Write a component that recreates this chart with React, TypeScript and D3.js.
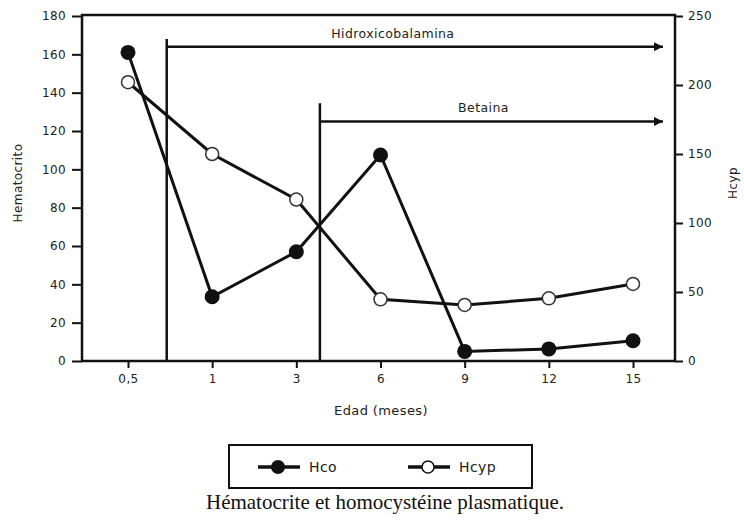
import { useEffect, useRef } from 'react';
import * as d3 from 'd3';

// Age categories (months)
const ages = ['0,5', '1', '3', '6', '9', '12', '15'];
// Hematocrito (left axis)
const hco = [161, 33.5, 57, 107.5, 5, 6.3, 10.6];
// Homocysteine (right axis)
const hcyp = [202, 150, 117, 44.7, 40.6, 45.4, 55.8];

const leftTicks = [0, 20, 40, 60, 80, 100, 120, 140, 160, 180];
const rightTicks = [0, 50, 100, 150, 200, 250];

// Treatment annotations: start between categories, arrow height / vertical top in left-axis units
const treatments = [
  { label: 'Hidroxicobalamina', after: '0,5', frac: 0.46, top: 168, arrowY: 164 },
  { label: 'Betaina', after: '3', frac: 0.28, top: 134.5, arrowY: 125 },
];

export default function App() {
  const svgRef = useRef<SVGSVGElement>(null);

  useEffect(() => {
    if (!svgRef.current) return;
    const root = d3.select(svgRef.current);
    root.selectAll('*').remove();

    const left = 82, right = 675, top = 16, bottom = 361;
    const font = '"DejaVu Sans", Verdana, sans-serif';

    const x = d3.scalePoint<string>().domain(ages).range([128, 633]);
    const yL = d3.scaleLinear().domain([0, 180]).range([bottom, top]);
    const yR = d3.scaleLinear().domain([0, 250]).range([bottom, top]);

    root.append('defs').append('marker')
      .attr('id', 'arrow')
      .attr('viewBox', '0 0 10 10')
      .attr('refX', 10).attr('refY', 5)
      .attr('markerWidth', 6).attr('markerHeight', 3.6)
      .attr('markerUnits', 'strokeWidth')
      .attr('orient', 'auto')
      .append('path').attr('d', 'M0,0L10,5L0,10Z').attr('fill', '#111');

    // frame
    root.append('rect')
      .attr('x', left).attr('y', top - 1)
      .attr('width', right - left).attr('height', bottom - top + 1)
      .attr('fill', 'none').attr('stroke', '#111').attr('stroke-width', 2.5);

    const styleText = (sel: any, size: number) =>
      sel.attr('font-family', font).attr('font-size', size)
        .attr('letter-spacing', 0.4).attr('fill', '#222');

    // left axis
    const gl = root.append('g')
      .attr('transform', `translate(${left},0)`)
      .call(d3.axisLeft(yL).tickValues(leftTicks).tickSize(10).tickPadding(6));
    gl.select('.domain').remove();
    gl.selectAll('line').attr('stroke', '#111').attr('stroke-width', 2);
    styleText(gl.selectAll('text'), 12);

    // right axis
    const gr = root.append('g')
      .attr('transform', `translate(${right},0)`)
      .call(d3.axisRight(yR).tickValues(rightTicks).tickSize(8).tickPadding(5));
    gr.select('.domain').remove();
    gr.selectAll('line').attr('stroke', '#111').attr('stroke-width', 2);
    styleText(gr.selectAll('text'), 12);

    // bottom axis
    const gb = root.append('g')
      .attr('transform', `translate(0,${bottom})`)
      .call(d3.axisBottom(x).tickSize(7).tickPadding(6));
    gb.select('.domain').remove();
    gb.selectAll('line').attr('stroke', '#111').attr('stroke-width', 2);
    styleText(gb.selectAll('text'), 12);

    // axis titles
    styleText(root.append('text'), 12)
      .attr('transform', `translate(22,183) rotate(-90)`)
      .attr('text-anchor', 'middle')
      .text('Hematocrito');
    styleText(root.append('text'), 12)
      .attr('transform', `translate(737,183) rotate(-90)`)
      .attr('text-anchor', 'middle')
      .text('Hcyp');
    styleText(root.append('text'), 13)
      .attr('x', 381).attr('y', 415)
      .attr('text-anchor', 'middle')
      .text('Edad (meses)');

    // treatment annotations
    const step = x.step();
    const labelShift = [-22, -8];
    treatments.forEach((t, i) => {
      const sx = (x(t.after) ?? 0) + t.frac * step;
      root.append('line')
        .attr('x1', sx).attr('x2', sx)
        .attr('y1', yL(t.top)).attr('y2', bottom)
        .attr('stroke', '#111').attr('stroke-width', 2.5);
      root.append('line')
        .attr('x1', sx).attr('x2', right - 12)
        .attr('y1', yL(t.arrowY)).attr('y2', yL(t.arrowY))
        .attr('stroke', '#111').attr('stroke-width', 2.5)
        .attr('marker-end', 'url(#arrow)');
      styleText(root.append('text'), 12.5)
        .attr('x', (sx + right - 12) / 2 + labelShift[i])
        .attr('y', yL(t.arrowY) - 9)
        .attr('text-anchor', 'middle')
        .text(t.label);
    });

    // series lines
    const lineL = d3.line<number>().x((_, i) => x(ages[i]) ?? 0).y(d => yL(d));
    const lineR = d3.line<number>().x((_, i) => x(ages[i]) ?? 0).y(d => yR(d));

    root.append('path').datum(hcyp).attr('d', lineR)
      .attr('fill', 'none').attr('stroke', '#111').attr('stroke-width', 3);
    root.append('path').datum(hco).attr('d', lineL)
      .attr('fill', 'none').attr('stroke', '#111').attr('stroke-width', 3);

    root.selectAll('.hcyp').data(hcyp).join('circle')
      .attr('class', 'hcyp')
      .attr('cx', (_, i) => x(ages[i]) ?? 0).attr('cy', d => yR(d))
      .attr('r', 6.5).attr('fill', '#fff').attr('stroke', '#333').attr('stroke-width', 1.5);
    root.selectAll('.hco').data(hco).join('circle')
      .attr('class', 'hco')
      .attr('cx', (_, i) => x(ages[i]) ?? 0).attr('cy', d => yL(d))
      .attr('r', 7.5).attr('fill', '#111');

    // legend
    const lg = root.append('g');
    lg.append('rect')
      .attr('x', 229).attr('y', 445).attr('width', 303).attr('height', 43)
      .attr('fill', 'none').attr('stroke', '#111').attr('stroke-width', 2);
    const items = [
      { label: 'Hco', x0: 258, filled: true },
      { label: 'Hcyp', x0: 408, filled: false },
    ];
    items.forEach(it => {
      lg.append('line')
        .attr('x1', it.x0).attr('x2', it.x0 + 42)
        .attr('y1', 467).attr('y2', 467)
        .attr('stroke', '#111').attr('stroke-width', 3.5);
      lg.append('circle')
        .attr('cx', it.x0 + 20).attr('cy', 467).attr('r', it.filled ? 7 : 6)
        .attr('fill', it.filled ? '#111' : '#fff')
        .attr('stroke', '#111').attr('stroke-width', it.filled ? 0 : 1.5);
      styleText(lg.append('text'), 14)
        .attr('x', it.x0 + 51).attr('y', 472)
        .text(it.label);
    });

    // caption
    root.append('text')
      .attr('x', 385).attr('y', 509)
      .attr('text-anchor', 'middle')
      .attr('font-family', '"Liberation Serif", "Times New Roman", serif')
      .attr('font-size', 21)
      .attr('fill', '#111')
      .text('Hématocrite et homocystéine plasmatique.');
  }, []);

  return (
    <svg
      ref={svgRef}
      width={744}
      height={520}
      style={{ position: 'absolute', left: 0, top: 0, background: '#fff' }}
    />
  );
}
